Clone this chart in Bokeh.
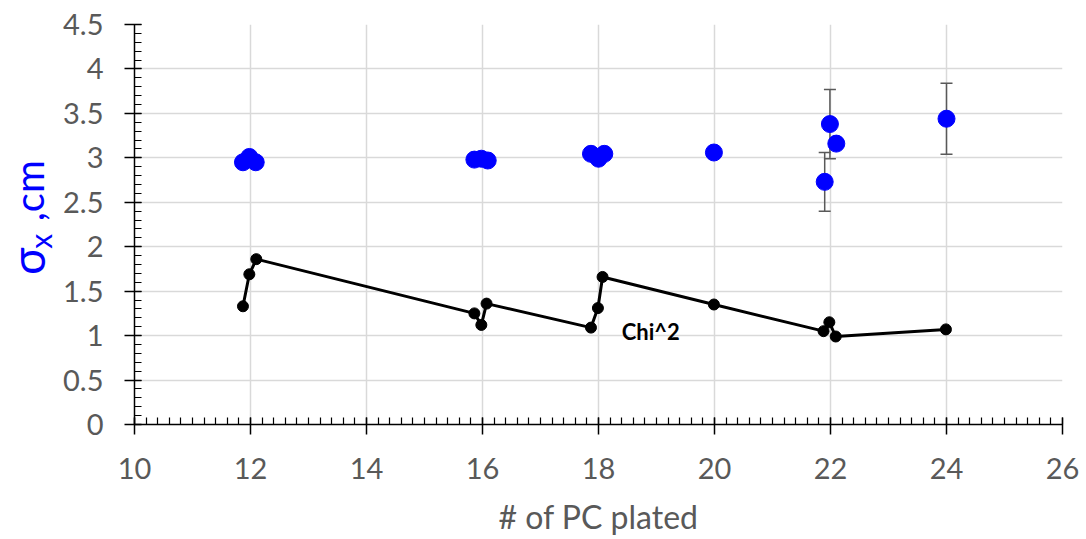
import math
from bokeh.plotting import figure
from bokeh.layouts import row
from bokeh.models import ColumnDataSource, Whisker, FixedTicker, Range1d, TeeHead
from bokeh.core.properties import value
from bokeh.embed import file_html
from bokeh.resources import INLINE

# sigma_x data (blue)
sigma_pc = [11.87, 11.98, 12.09, 15.86, 15.98, 16.09, 17.87, 18.0, 18.1, 19.99, 21.9, 21.99, 22.1, 24.0]
sigma_val = [2.95, 3.01, 2.95, 2.98, 2.99, 2.97, 3.045, 2.99, 3.045, 3.06, 2.73, 3.38, 3.16, 3.44]
sigma_err = [0, 0, 0, 0, 0, 0, 0, 0, 0, 0, 0.33, 0.39, 0, 0.40]

# chi^2 data (black line)
chi_pc = [11.87, 11.98, 12.1, 15.86, 15.98, 16.07, 17.87, 17.99, 18.07, 19.99, 21.88, 21.98, 22.09, 23.99]
chi_val = [1.33, 1.69, 1.86, 1.25, 1.12, 1.36, 1.09, 1.31, 1.66, 1.35, 1.05, 1.15, 0.99, 1.07]

x_ticks = [10, 12, 14, 16, 18, 20, 22, 24, 26]
y_ticks = [0, 0.5, 1, 1.5, 2, 2.5, 3, 3.5, 4, 4.5]

FONT = "Lato"
GRAY = "#595959"
BLUE = "#0000ff"

# ---- narrow left panel holding the y-axis title (sigma with subscript x) ----
LW, H = 60, 539
t = figure(width=LW, height=H, output_backend="svg", toolbar_location=None,
           x_range=Range1d(0, LW), y_range=Range1d(0, H),
           x_axis_location=None, y_axis_location=None,
           min_border=0, min_border_left=0, min_border_right=0, min_border_top=0, min_border_bottom=0)
t.outline_line_color = None
t.grid.visible = False
t.background_fill_color = "white"
t.border_fill_color = "white"
ang = math.pi / 2
title_parts = ["σ", "x", ",cm"]
title_x = [27, 39, 28]
title_y = [H - 319, H - 292, H - 224]
title_size = ["46px", "30px", "40px"]
for txt, tx, ty, ts in zip(title_parts, title_x, title_y, title_size):
    t.text(x=[tx], y=[ty], text=[txt], angle=ang, text_font=value(FONT), text_font_size=ts,
           text_color=BLUE, text_align="center", text_baseline="middle")

# ---- main chart ----
p = figure(width=1086 - LW, height=H, output_backend="svg", toolbar_location=None,
           x_range=Range1d(10, 26), y_range=Range1d(0, 4.5),
           min_border_left=133 - LW, min_border_right=24, min_border_top=24, min_border_bottom=115)
p.outline_line_color = None
p.background_fill_color = "white"
p.border_fill_color = "white"

p.xaxis.ticker = FixedTicker(ticks=x_ticks, minor_ticks=[10 + 0.2 * i for i in range(81)])
p.yaxis.ticker = FixedTicker(ticks=y_ticks, minor_ticks=[0.1 * i for i in range(46)])

for ax in (p.xaxis[0], p.yaxis[0]):
    ax.axis_line_color = "black"
    ax.axis_line_width = 1.5
    ax.major_tick_line_color = "black"
    ax.major_tick_line_width = 1.5
    ax.major_tick_in = 7
    ax.major_tick_out = 10
    ax.minor_tick_line_color = "black"
    ax.minor_tick_line_width = 1.2
    ax.minor_tick_in = 7
    ax.minor_tick_out = 0
    ax.major_label_text_font = FONT
    ax.major_label_text_font_size = "29px"
    ax.major_label_text_color = GRAY
    ax.axis_label_text_font = FONT
    ax.axis_label_text_font_style = "normal"

p.xaxis.major_label_standoff = 23
p.yaxis.major_label_standoff = 21
p.xaxis.axis_label = "# of PC plated"
p.xaxis.axis_label_text_font_size = "32px"
p.xaxis.axis_label_text_color = GRAY
p.xaxis.axis_label_standoff = 15

p.xgrid.ticker = FixedTicker(ticks=x_ticks)
p.ygrid.ticker = FixedTicker(ticks=y_ticks)
p.grid.grid_line_color = "#d9d9d9"
p.grid.grid_line_width = 1.5

# error bars
ex = [x for x, e in zip(sigma_pc, sigma_err) if e > 0]
ey = [y for y, e in zip(sigma_val, sigma_err) if e > 0]
ee = [e for e in sigma_err if e > 0]
err_src = ColumnDataSource(dict(x=ex, upper=[y + e for y, e in zip(ey, ee)], lower=[y - e for y, e in zip(ey, ee)]))
w = Whisker(base="x", upper="upper", lower="lower", source=err_src,
            line_color=GRAY, line_width=1.5, level="underlay",
            upper_head=TeeHead(size=12, line_color=GRAY, line_width=1.5),
            lower_head=TeeHead(size=12, line_color=GRAY, line_width=1.5))
p.add_layout(w)

# chi^2 line
p.line(chi_pc, chi_val, line_color="black", line_width=3)
p.scatter(chi_pc, chi_val, size=11, fill_color="black", line_color="black")

# sigma points
p.scatter(sigma_pc, sigma_val, size=17, fill_color=BLUE, line_color=BLUE)

p.text(x=[18.4], y=[1.05], text=["Chi^2"], text_font=value(FONT), text_font_size="22px",
       text_font_style="bold", text_color="black", text_baseline="middle", text_align="left")

layout = row(t, p, spacing=0)
open("out.html", "w").write(file_html(layout, INLINE))
